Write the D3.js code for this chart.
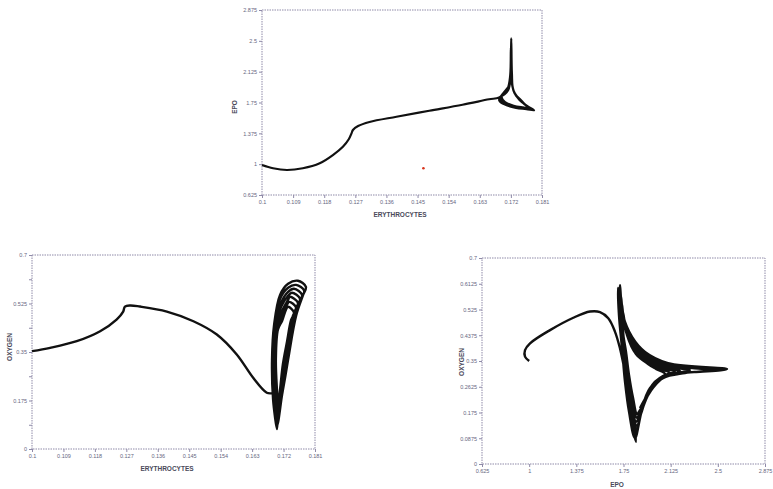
<!DOCTYPE html>
<html>
<head>
<meta charset="utf-8">
<script src="https://cdn.jsdelivr.net/npm/d3@7/dist/d3.min.js"></script>
<style>
body { margin: 0; background: #fff; }
text { font-family: "Liberation Sans", Arial, sans-serif; }
</style>
</head>
<body>
<svg id="chart" width="773" height="489"></svg>
<script>
// tick values shared by the three phase plots
var erythTicks = [0.1, 0.109, 0.118, 0.127, 0.136, 0.145, 0.154, 0.163, 0.172, 0.181];
var epoTicks = [0.625, 1, 1.375, 1.75, 2.125, 2.5, 2.875];
var oxyTicksA = [0, 0.0875, 0.175, 0.2625, 0.35, 0.4375, 0.525, 0.6125, 0.7];
var oxyLabelsA = ["0", "", "0.175", "", "0.35", "", "0.525", "", "0.7"];
var oxyTicksB = [0, 0.0875, 0.175, 0.2625, 0.35, 0.4375, 0.525, 0.6125, 0.7];

// top: EPO against ERYTHROCYTES
var topMain = [[0.1,0.99],[0.1032,0.95],[0.1072,0.929],[0.1118,0.95],[0.1167,1.011],[0.1205,1.111],
  [0.1234,1.212],[0.1251,1.303],[0.1259,1.375],[0.1263,1.416],[0.1278,1.464],[0.1311,1.513],
  [0.1389,1.577],[0.1484,1.65],[0.158,1.723],[0.1657,1.789],[0.1686,1.811]];
var topLoops = [[0.1712,1.9],[0.1719,2.1],[0.1721,2.53],[0.1723,2.1],[0.1727,1.9],[0.1745,1.78],[0.177,1.7],[0.1787,1.655],
  [0.1765,1.67],[0.1735,1.685],[0.17,1.73],[0.1686,1.78],
  [0.171,1.91],[0.1718,2.08],[0.172,2.42],[0.1722,2.08],[0.1728,1.89],[0.1748,1.77],[0.1772,1.69],[0.1783,1.665],
  [0.1762,1.68],[0.1732,1.7],[0.1698,1.745],[0.1688,1.8],
  [0.1711,1.92],[0.1718,2.05],[0.172,2.3],[0.1722,2.05],[0.1729,1.88],[0.175,1.765],[0.177,1.695],[0.1779,1.675],
  [0.1758,1.685],[0.173,1.705],[0.17,1.75],[0.169,1.81],
  [0.1712,1.93],[0.1718,2.02],[0.172,2.18],[0.1722,2.02],[0.173,1.87],[0.175,1.77],[0.1768,1.7],[0.1775,1.68],
  [0.1755,1.69],[0.1728,1.71],[0.1703,1.755],[0.1693,1.82],
  [0.1713,1.94],[0.1719,2.0],[0.172,2.08],[0.1722,2.0],[0.1731,1.86],[0.175,1.775],[0.1766,1.705],[0.1772,1.69]];
var strayDot = [0.1467, 0.95];

// bottom left: OXYGEN against ERYTHROCYTES
var leftMain = [[0.1,0.353],[0.1052,0.365],[0.1128,0.389],[0.1195,0.425],[0.1242,0.467],[0.1261,0.496],
  [0.1266,0.514],[0.1281,0.518],[0.1309,0.514],[0.1386,0.496],[0.1462,0.461],[0.1529,0.413],
  [0.1586,0.341],[0.1633,0.257],[0.1672,0.203],[0.1696,0.197]];
var leftLoops = [
  [0.1701,0.072],[0.169,0.179],[0.1687,0.323],[0.1693,0.449],[0.171,0.556],[0.1733,0.596],[0.1761,0.607],[0.1784,0.585],
  [0.1776,0.556],[0.1756,0.481],[0.1733,0.323],[0.1716,0.197],
  [0.1701,0.083],[0.1693,0.179],[0.169,0.323],[0.1696,0.449],[0.171,0.542],[0.1733,0.582],[0.1756,0.592],[0.1779,0.571],
  [0.177,0.542],[0.175,0.467],[0.1733,0.323],[0.1716,0.197],
  [0.1701,0.097],[0.1693,0.179],[0.169,0.323],[0.1696,0.449],[0.1713,0.528],[0.1733,0.567],[0.175,0.578],[0.1773,0.556],
  [0.1764,0.528],[0.1744,0.452],[0.173,0.323],[0.1713,0.197],
  [0.1701,0.111],[0.1696,0.179],[0.1693,0.323],[0.1698,0.449],[0.1713,0.513],[0.1733,0.553],[0.1744,0.564],[0.1767,0.542],
  [0.1758,0.513],[0.1738,0.438],[0.1727,0.323],[0.1713,0.197],
  [0.1701,0.126],[0.1698,0.179],[0.1696,0.323],[0.1701,0.449],[0.1716,0.499],[0.1733,0.538],[0.1738,0.549],[0.1761,0.528],
  [0.1753,0.499],[0.1736,0.424],[0.1724,0.323],[0.171,0.197],
  [0.1701,0.14],[0.1698,0.197],[0.1696,0.323],[0.1701,0.438],[0.1716,0.481],[0.173,0.521],[0.1736,0.531],[0.1756,0.51],
  [0.1747,0.481],[0.1733,0.406],[0.1721,0.316],[0.171,0.197],
  [0.1704,0.158],[0.1701,0.215],[0.1698,0.323],[0.1704,0.431],[0.1716,0.463],[0.1727,0.503],[0.1733,0.513],[0.175,0.492],
  [0.1741,0.463],[0.173,0.388],[0.1718,0.305],[0.171,0.215],[0.1704,0.162]];

// bottom right: OXYGEN against EPO
var rightMain = [[1.0,0.35],[0.967,0.365],[0.967,0.387],[1.007,0.41],[1.166,0.455],[1.351,0.497],[1.484,0.518],
  [1.563,0.516],[1.629,0.495],[1.682,0.45],[1.722,0.393],[1.762,0.313],[1.81,0.224],[1.849,0.075]];
var rightLoops = [
  [1.802,0.166],[1.77,0.268],[1.746,0.387],[1.722,0.506],[1.722,0.608],[1.746,0.506],[1.818,0.432],[1.921,0.381],
  [2.104,0.343],[2.573,0.323],[2.358,0.313],[2.104,0.306],[1.977,0.268],[1.897,0.183],[1.841,0.088],
  [1.794,0.177],[1.762,0.279],[1.738,0.394],[1.714,0.506],[1.706,0.598],[1.738,0.496],[1.802,0.428],[1.897,0.381],
  [2.08,0.34],[2.517,0.319],[2.318,0.313],[2.088,0.299],[1.961,0.258],[1.889,0.177],[1.849,0.102],
  [1.802,0.183],[1.77,0.285],[1.746,0.394],[1.722,0.496],[1.722,0.584],[1.746,0.489],[1.81,0.421],[1.897,0.374],
  [2.04,0.34],[2.438,0.319],[2.239,0.309],[2.064,0.292],[1.961,0.251],[1.889,0.17],[1.849,0.116],
  [1.81,0.19],[1.778,0.285],[1.754,0.387],[1.73,0.483],[1.73,0.571],[1.754,0.483],[1.818,0.415],[1.905,0.367],
  [2.056,0.333],[2.279,0.319],[2.136,0.306],[2.04,0.285],[1.953,0.245],[1.889,0.17],[1.857,0.129],
  [1.81,0.2],[1.778,0.292],[1.754,0.387],[1.73,0.472],[1.73,0.557],[1.754,0.472],[1.826,0.404],[1.921,0.36],
  [2.04,0.33],[2.199,0.316],[2.088,0.299],[2.016,0.275],[1.945,0.234],[1.881,0.166],[1.849,0.143],
  [1.818,0.211],[1.786,0.299],[1.762,0.387],[1.738,0.462],[1.738,0.544],[1.762,0.462],[1.833,0.394],[1.929,0.353],
  [2.024,0.33],[2.159,0.313],[2.056,0.292],[2.0,0.268],[1.937,0.228],[1.881,0.177],[1.857,0.156],
  [1.818,0.217],[1.786,0.302],[1.762,0.381],[1.746,0.455],[1.738,0.53],[1.77,0.449],[1.841,0.384],[1.937,0.347],
  [2.024,0.326],[2.12,0.309],[2.04,0.289],[1.985,0.262],[1.929,0.224],[1.881,0.183],[1.857,0.17],
  [1.826,0.224],[1.794,0.302],[1.77,0.381],[1.746,0.449],[1.746,0.517],[1.778,0.438],[1.849,0.374],[1.945,0.34],
  [2.008,0.323],[2.08,0.306],[2.024,0.285],[1.977,0.258],[1.921,0.221],[1.881,0.19]];

var svg = d3.select("#chart");

function panel(o) {
  var x = d3.scaleLinear().domain([o.xTicks[0], o.xTicks[o.xTicks.length-1]]).range([o.left, o.right]);
  var y = d3.scaleLinear().domain([o.yTicks[0], o.yTicks[o.yTicks.length-1]]).range([o.bottom, o.top]);
  var g = svg.append("g");

  var xa = g.append("g").attr("transform", "translate(0," + o.bottom + ")")
    .call(d3.axisBottom(x).tickValues(o.xTicks).tickSize(3).tickPadding(2)
      .tickFormat(function(d, i) { return o.xLabels ? o.xLabels[i] : String(d); }));
  var ya = g.append("g").attr("transform", "translate(" + o.left + ",0)")
    .call(d3.axisLeft(y).tickValues(o.yTicks).tickSize(3).tickPadding(2)
      .tickFormat(function(d, i) { return o.yLabels ? o.yLabels[i] : String(d); }));
  [xa, ya].forEach(function(a) {
    a.select(".domain").remove();
    a.selectAll("line").attr("stroke", "#8f8aa8");
    a.selectAll("text").attr("font-size", "5.5px").attr("fill", "#666680");
  });

  g.append("rect")
    .attr("x", o.left).attr("y", o.top)
    .attr("width", o.right - o.left).attr("height", o.bottom - o.top)
    .attr("fill", "none").attr("stroke", "#8f8aa8").attr("stroke-width", 1)
    .attr("stroke-dasharray", "1.5,1");

  var line = d3.line()
    .x(function(d) { return x(d[0]); })
    .y(function(d) { return y(d[1]); })
    .curve(d3.curveCatmullRom.alpha(0.5));
  g.append("path").datum(o.points)
    .attr("d", line).attr("fill", "none")
    .attr("stroke", "#111").attr("stroke-width", o.width)
    .attr("stroke-linejoin", "round");

  g.append("text").attr("x", o.xTitle[0]).attr("y", o.xTitle[1])
    .attr("text-anchor", "middle").attr("font-size", "6.5px").attr("font-weight", "bold")
    .attr("fill", "#4a4a5a").text(o.xName);
  g.append("text").attr("transform", "translate(" + o.yTitle[0] + "," + o.yTitle[1] + ") rotate(-90)")
    .attr("text-anchor", "middle").attr("font-size", "6.5px").attr("font-weight", "bold")
    .attr("fill", "#4a4a5a").text(o.yName);
  return {x: x, y: y, g: g};
}

var top1 = panel({
  left: 262, right: 542, top: 10, bottom: 195, width: 2.2,
  xTicks: erythTicks, yTicks: epoTicks,
  points: topMain.concat(topLoops),
  xName: "ERYTHROCYTES", xTitle: [400, 217],
  yName: "EPO", yTitle: [237, 107]
});
top1.g.append("circle")
  .attr("cx", top1.x(strayDot[0])).attr("cy", top1.y(strayDot[1]))
  .attr("r", 1.3).attr("fill", "#d8341c");

panel({
  left: 32, right: 315, top: 255, bottom: 449, width: 2.4,
  xTicks: erythTicks, yTicks: oxyTicksA, yLabels: oxyLabelsA,
  points: leftMain.concat(leftLoops),
  xName: "ERYTHROCYTES", xTitle: [167, 471],
  yName: "OXYGEN", yTitle: [12, 347]
});

panel({
  left: 482, right: 765, top: 258, bottom: 464, width: 2.4,
  xTicks: epoTicks, yTicks: oxyTicksB,
  points: rightMain.concat(rightLoops),
  xName: "EPO", xTitle: [617, 487],
  yName: "OXYGEN", yTitle: [464, 362]
});
</script>
</body>
</html>
